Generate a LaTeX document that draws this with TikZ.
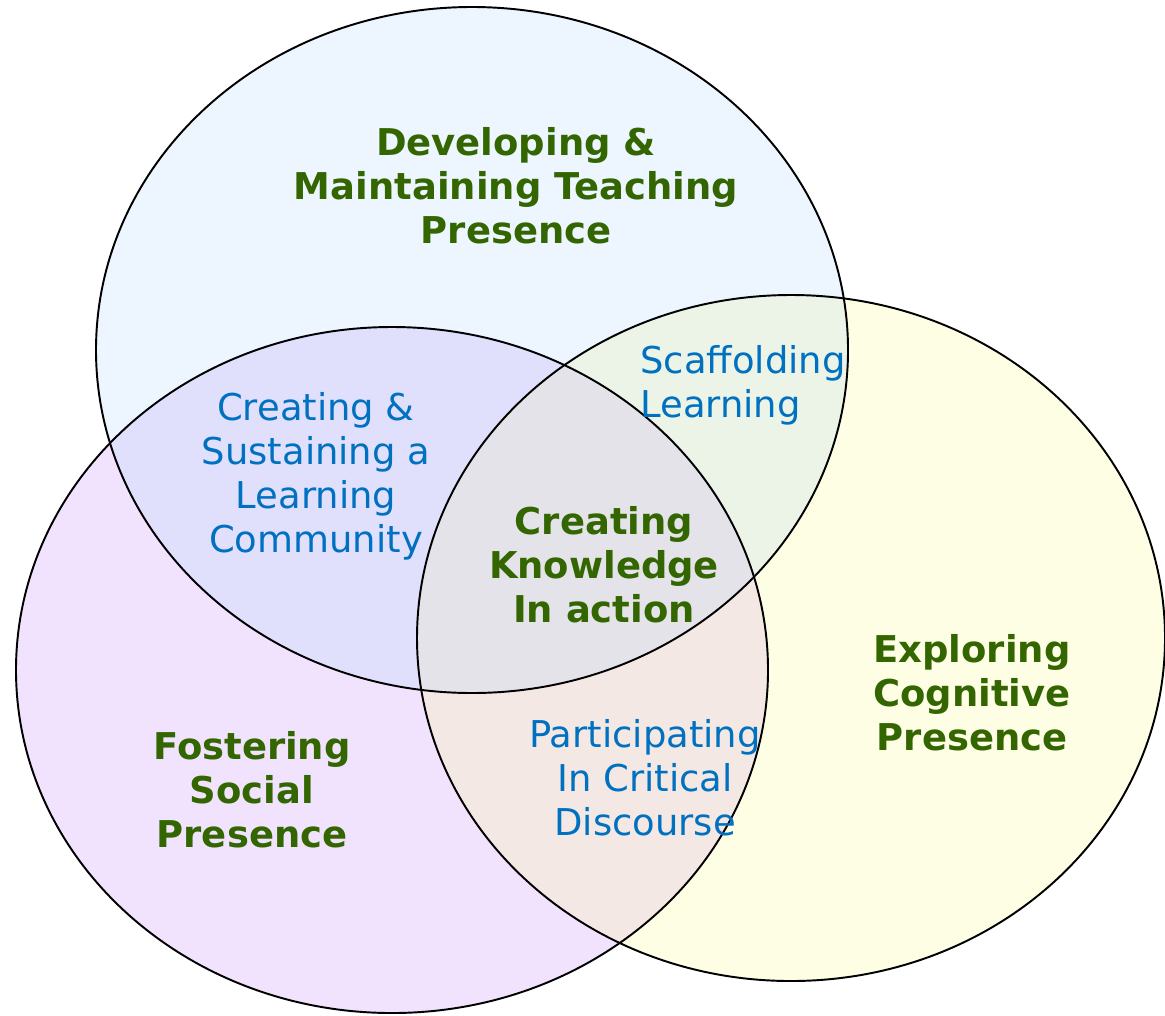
\documentclass[tikz,border=0pt]{standalone}
\usepackage{fontspec}
\setmainfont{DejaVu Sans}
\usetikzlibrary{calc}

\definecolor{topfill}{RGB}{237,245,254}
\definecolor{leftfill}{RGB}{241,227,254}
\definecolor{rightfill}{RGB}{254,254,229}
\definecolor{tlfill}{RGB}{224,223,252}
\definecolor{trfill}{RGB}{236,244,231}
\definecolor{lrfill}{RGB}{243,232,228}
\definecolor{midfill}{RGB}{228,227,233}
\definecolor{titlegreen}{RGB}{51,102,0}
\definecolor{areablue}{RGB}{0,112,192}

\tikzset{
	title/.style={text=titlegreen, font=\bfseries\fontsize{10.5}{12.5}\selectfont, align=center},
	area/.style={text=areablue, font=\fontsize{10.5}{12.5}\selectfont, align=center}
}

\begin{document}
\begin{tikzpicture}[x=0.01cm, y=-0.01cm]
					\useasboundingbox (0,0) rectangle (1165,1015);
					\coordinate (T) at (472,350);
					\coordinate (L) at (392,670);
					\coordinate (R) at (791,638);

					\fill[topfill] (T) ellipse [x radius=376, y radius=343];
					\fill[leftfill] (L) ellipse [x radius=376, y radius=343];
					\fill[rightfill] (R) ellipse [x radius=374, y radius=343];

					% Mark the overlaps
					\begin{scope}
					\clip (T) ellipse [x radius=376, y radius=343];
					\fill[tlfill] (L) ellipse [x radius=376, y radius=343];
					\fill[trfill] (R) ellipse [x radius=374, y radius=343];
					\end{scope}
					\begin{scope}
					\clip (L) ellipse [x radius=376, y radius=343];
					\fill[lrfill] (R) ellipse [x radius=374, y radius=343];
					\clip (T) ellipse [x radius=376, y radius=343];
					\fill[midfill] (R) ellipse [x radius=374, y radius=343];
					\end{scope}

					\draw[line width=0.55pt] (T) ellipse [x radius=376, y radius=343];
					\draw[line width=0.55pt] (L) ellipse [x radius=376, y radius=343];
					\draw[line width=0.55pt] (R) ellipse [x radius=374, y radius=343];

					\node[title] (teaching) at (516,186) {Developing \&\\Maintaining Teaching\\Presence};
					\node[title] (social) at (252,790) {Fostering\\Social\\Presence};
					\node[title] (cognitive) at (972,693) {Exploring\\Cognitive\\Presence};
					\node[title] (knowledge) at (604,565) {Creating\\Knowledge\\In action};
					\node[area] (community) at (316,476) {Creating \&\\Sustaining a\\Learning\\Community};
					\node[area, align=left, anchor=west] (scaffold) at (628,385) {Scaffolding\\Learning};
					\node[area] (discourse) at (645,778) {Participating\\In Critical\\Discourse};
				\end{tikzpicture}
\end{document}
